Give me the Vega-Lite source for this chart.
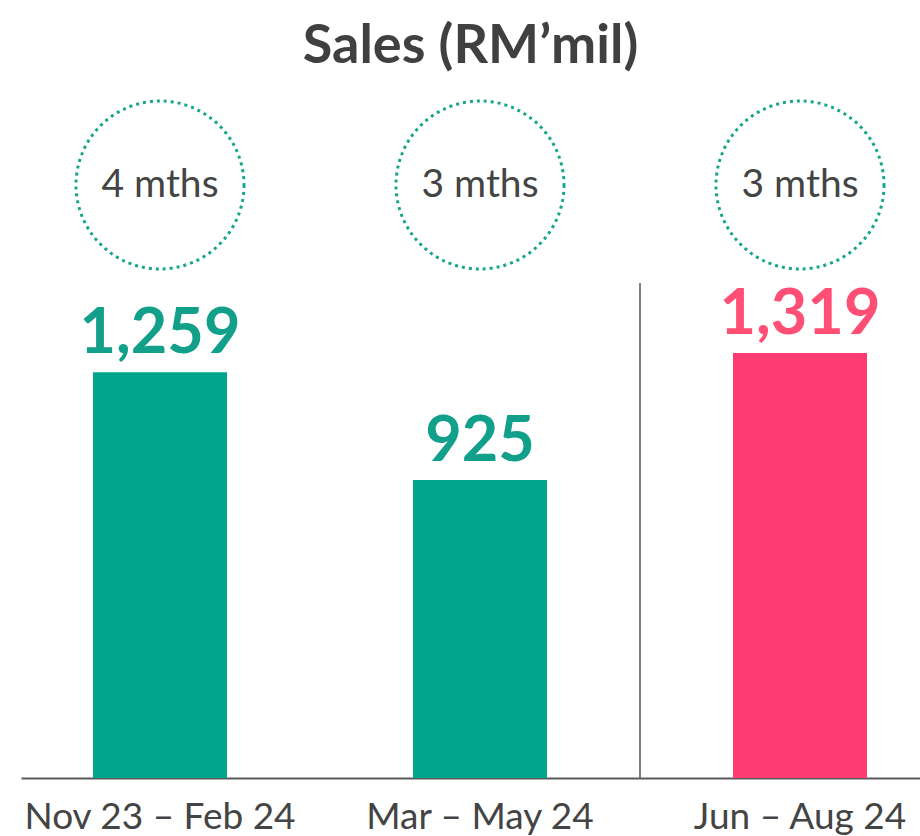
{
  "$schema": "https://vega.github.io/schema/vega-lite/v6.json",
  "padding": {"left": 21, "top": 20, "right": 0, "bottom": 0},
  "background": "white",
  "title": {"text": "Sales (RM’mil)", "font": "Lato", "fontSize": 54, "fontWeight": "bold", "color": "#404040", "anchor": "middle", "offset": 21},
  "data": {"values": [
    {"period": "Nov 23 – Feb 24", "sales": 1259, "label": "1,259", "duration": "4 mths", "group": "previous"},
    {"period": "Mar – May 24", "sales": 925, "label": "925", "duration": "3 mths", "group": "previous"},
    {"period": "Jun – Aug 24", "sales": 1319, "label": "1,319", "duration": "3 mths", "group": "latest"}
  ]},
  "spacing": 7,
  "config": {"view": {"stroke": null}, "font": "Lato"},
  "vconcat": [
    {
      "width": 899,
      "height": 176,
      "layer": [
        {
          "mark": {"type": "point", "shape": "circle", "size": 28224, "filled": false, "opacity": 1, "stroke": "#17a58c", "strokeWidth": 3, "strokeDash": [3, 4]},
          "encoding": {
            "x": {"field": "period", "type": "nominal", "sort": null, "axis": null,
              "scale": {"type": "band", "domain": ["Nov 23 – Feb 24", "Mar – May 24", "Jun – Aug 24"], "paddingInner": 0.58125, "paddingOuter": 0.1953, "align": 0.576}}
          }
        },
        {
          "mark": {"type": "text", "fontSize": 39, "color": "#444444", "baseline": "middle", "font": "Lato"},
          "encoding": {
            "x": {"field": "period", "type": "nominal", "sort": null, "axis": null,
              "scale": {"type": "band", "domain": ["Nov 23 – Feb 24", "Mar – May 24", "Jun – Aug 24"], "paddingInner": 0.58125, "paddingOuter": 0.1953, "align": 0.576}},
            "text": {"field": "duration"}
          }
        }
      ]
    },
    {
      "width": 899,
      "height": 495,
      "resolve": {"scale": {"color": "independent"}},
      "layer": [
        {
          "mark": {"type": "bar"},
          "encoding": {
            "x": {"field": "period", "type": "nominal", "sort": null,
              "scale": {"type": "band", "domain": ["Nov 23 – Feb 24", "Mar – May 24", "Jun – Aug 24"], "paddingInner": 0.58125, "paddingOuter": 0.1953, "align": 0.576},
              "axis": {"title": null, "labelAngle": 0, "labelFontSize": 37, "labelFont": "Lato", "labelColor": "#444444", "labelPadding": 21, "ticks": false, "domainColor": "#5a5a5a", "domainWidth": 2, "grid": false, "labelLimit": 0, "labelOverlap": false}},
            "y": {"field": "sales", "type": "quantitative", "scale": {"domain": [0, 1536], "nice": false, "zero": true}, "axis": null},
            "color": {"field": "group", "type": "nominal", "scale": {"domain": ["previous", "latest"], "range": ["#00a58e", "#ff3b72"]}, "legend": null}
          }
        },
        {
          "mark": {"type": "text", "baseline": "alphabetic", "dy": -19, "fontSize": 63, "fontWeight": "bold", "font": "Lato"},
          "encoding": {
            "x": {"field": "period", "type": "nominal", "sort": null},
            "y": {"field": "sales", "type": "quantitative"},
            "text": {"field": "label"},
            "color": {"field": "group", "type": "nominal", "scale": {"domain": ["previous", "latest"], "range": ["#12a08b", "#ff4f75"]}, "legend": null}
          }
        },
        {
          "data": {"values": [{}]},
          "mark": {"type": "rule", "color": "#555555", "strokeWidth": 1.5},
          "encoding": {
            "x": {"datum": "Mar – May 24", "type": "nominal", "bandPosition": 1.694}
          }
        }
      ]
    }
  ]
}
